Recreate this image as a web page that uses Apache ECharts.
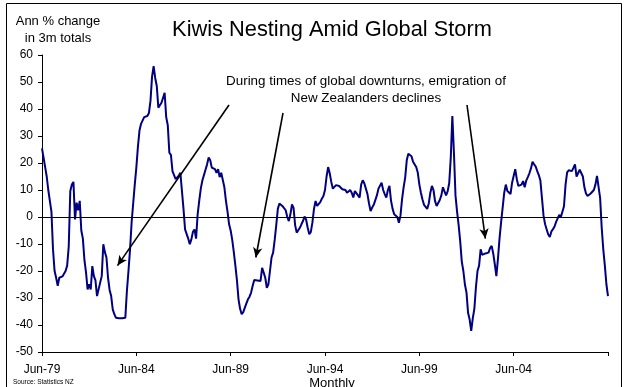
<!DOCTYPE html>
<html>
<head>
<meta charset="utf-8">
<script src="https://cdn.jsdelivr.net/npm/echarts@6/dist/echarts.min.js"></script>
<style>
  html, body { margin: 0; padding: 0; background: #ffffff; }
  #chart { width: 627px; height: 387px; }
</style>
</head>
<body>
<div id="chart"></div>
<script>
const FONT = '"Liberation Sans", Arial, Helvetica, sans-serif';

// Monthly series starting June 1979: annual % change in 3-month totals
const firstYear = 1979;
const firstMonth = 5; // June (0-based)
const annChange = [
  25.4, 22, 18.5, 15, 10, 6, 2, -12, -20, -22.5, -25.5, -22.5,
  -22.5, -22, -21, -20, -18, -11, 9.6, 12, 13, -0.9, 5.3, 2.5,
  6, -5, -8, -16, -20.5, -26.8, -24.9, -26.8, -18.2, -21.9, -23.5, -29.3,
  -29.3, -24.3, -21.9, -10.1, -13, -15, -22.5, -27, -29.3, -34.2, -36, -37.3,
  -37.5, -37.5, -37.3, -37.5, -37.3, -37.3, -27.4, -20, -12, -2, 5, 12,
  18.3, 26, 32, 34.5, 35, 37, 36.5, 37.4, 38.5, 43, 52, 55.9,
  51.5, 48.5, 40.5, 41, 42.3, 41.7, 46, 37, 34, 23.8, 23, 17,
  15.5, 14, 13.5, 15.3, 16.4, 16.4, 3, -4.6, -5.2, -8, -10.1, -8.3,
  -5.5, -4.6, -8, 1, 6, 10.5, 13.5, 15.5, 17.5, 19.5, 22, 21,
  18.3, 18, 17.7, 16.4, 17.7, 14.8, 16.4, 15.8, 11, 6, 2, -2.7,
  -5, -8.5, -13, -18, -23.5, -30.5, -34, -36, -35.2, -34.5, -32, -30.5,
  -29.5, -28, -25.5, -23.3, -23.4, -23.5, -23.2, -23.7, -18.8, -20.6, -22.5, -26.2,
  -24.9, -20, -15, -13.2, -8.5, -3, 3, 5, 4.5, 4, 3.4, 2.5,
  0, -1.5, 1, 4.7, 3.4, -3, -5.8, -5.2, -4, -2.7, -1.5, 0.2,
  -1, -4, -6.4, -5.5, -2, 3, 5.9, 4.1, 4.5, 5.5, 6.8, 7.8,
  10, 15, 18.5, 16.2, 13, 10.5, 11, 11.8, 11.5, 11.5, 11.5, 10.3,
  10.9, 10, 9, 8.4, 10, 9, 7.2, 9.6, 9, 8, 7.2, 12,
  13.6, 12.5, 10.5, 8.5, 5, 2.2, 3.5, 4.5, 5, 8, 10.5, 10,
  12.7, 10, 8.5, 7.2, 10, 11.5, 6, 3, 1, 0.6, 0, -2.1,
  0.5, 6.5, 11, 14.6, 21, 23.4, 23.2, 22.5, 20.5, 20.1, 18.5, 16.5,
  12.1, 9, 6.5, 4.5, 4.1, 3, 5, 9, 11.5, 10, 5.9, 4.1,
  4.6, 6.3, 8, 11, 10.5, 8, 9.5, 12.5, 22, 37.4, 24, 8,
  2, -3, -9, -16.5, -20, -25, -28, -35.5, -38, -42.2, -37.5, -34,
  -26, -20, -18, -12, -14, -14.2, -13.5, -13.5, -13.2, -11.5, -10.7, -13.5,
  -17.5, -21.9, -15.5, -8, -2, 3.5, 9, 12, 9.6, 9, 8.5, 12.7,
  12.5, 17.7, 14, 11.5, 11, 12, 13.3, 11, 13.5, 14.8, 16.2, 18,
  20.5, 19.5, 18.7, 17, 15.5, 13.5, 7, 0.5, -2.7, -4.6, -6.5, -7.4,
  -5.4, -4.5, -3.5, -1.8, -0.5, 0.8, -0.1, 0.4, 4, 12, 16.5, 17.3,
  17.5, 17, 18.2, 19.5, 15, 14.5, 17.5, 17, 15, 11, 8.7, 7.8,
  8, 8.7, 9.3, 10, 12, 15.2, 15.5, 7, -4, -12, -18, -25,
  -29.3
];

const tickLabels = ['Jun-79', 'Jun-84', 'Jun-89', 'Jun-94', 'Jun-99', 'Jun-04'];
const yTicks = { min: -50, max: 60, step: 10 };

const titleText = 'Kiwis Nesting Amid Global Storm';
const yNameLines = ['Ann % change', 'in 3m totals'];
const xNameText = 'Monthly';
const sourceText = 'Source: Statistics NZ';
const noteLines = ['During times of global downturns, emigration of', 'New Zealanders declines'];

// Downturn troughs the note points at: [month index, value]
const noteTargets = [[48, -18], [136, -15], [282, -8]];

const monthNames = ['Jan', 'Feb', 'Mar', 'Apr', 'May', 'Jun', 'Jul', 'Aug', 'Sep', 'Oct', 'Nov', 'Dec'];
const categories = annChange.map((_, i) => {
  const t = firstMonth + i;
  const yr = (firstYear + Math.floor(t / 12)) % 100;
  return monthNames[t % 12] + '-' + String(yr).padStart(2, '0');
});

// Where each arrow leaves the note text (pixels)
const arrowStarts = [[229, 105], [283, 113], [467, 105]];

const markData = [
  { yAxis: 0, lineStyle: { color: '#000000', width: 1, type: 'solid' } }
];
noteTargets.forEach((tgt, k) => {
  markData.push([
    { x: arrowStarts[k][0], y: arrowStarts[k][1], symbol: 'none' },
    { coord: [tgt[0], tgt[1]], symbol: 'arrow', symbolSize: [7, 10],
      lineStyle: { color: '#000000', width: 1.6, type: 'solid' } }
  ]);
});

const chart = echarts.init(document.getElementById('chart'), null, { renderer: 'canvas' });

chart.setOption({
  animation: false,
  backgroundColor: '#ffffff',
  textStyle: { fontFamily: FONT },
  grid: { left: 42, right: 19, top: 55, bottom: 35, containLabel: false },
  xAxis: {
    type: 'category',
    data: categories,
    boundaryGap: false,
    axisLine: { onZero: false, lineStyle: { color: '#000000', width: 1 } },
    axisTick: {
      show: true,
      inside: false,
      length: 4,
      interval: (i) => i % 60 === 0,
      lineStyle: { color: '#000000', width: 1 }
    },
    axisLabel: {
      interval: (i, v) => tickLabels.indexOf(v) !== -1,
      color: '#000000',
      fontFamily: FONT,
      fontSize: 12,
      margin: 12,
      hideOverlap: false
    },
    splitLine: { show: false }
  },
  yAxis: {
    type: 'value',
    min: yTicks.min,
    max: yTicks.max,
    interval: yTicks.step,
    axisLine: { show: true, lineStyle: { color: '#000000', width: 1 } },
    axisTick: { show: true, inside: false, length: 4, lineStyle: { color: '#000000', width: 1 } },
    axisLabel: { color: '#000000', fontFamily: FONT, fontSize: 12, margin: 9 },
    splitLine: { show: false }
  },
  series: [{
    type: 'line',
    data: annChange,
    showSymbol: false,
    symbol: 'none',
    lineStyle: { color: '#000080', width: 2 },
    itemStyle: { color: '#000080' },
    emphasis: { disabled: true },
    markLine: {
      silent: true,
      animation: false,
      symbol: ['none', 'none'],
      label: { show: false },
      emphasis: { disabled: true },
      lineStyle: { color: '#000000', width: 1, type: 'solid' },
      data: markData
    }
  }],
  graphic: [
    {
      type: 'rect', silent: true, z: 0,
      shape: { x: 6.5, y: 3.5, width: 615, height: 400 },
      style: { fill: 'none', stroke: '#000000', lineWidth: 1 }
    },
    {
      type: 'text', x: 332, y: 30, silent: true,
      style: { text: titleText, font: '21.8px ' + FONT, fill: '#000000', align: 'center', verticalAlign: 'middle' }
    },
    {
      type: 'text', x: 58, y: 21, silent: true,
      style: { text: yNameLines[0], font: '13px ' + FONT, fill: '#000000', align: 'center', verticalAlign: 'middle' }
    },
    {
      type: 'text', x: 58, y: 38, silent: true,
      style: { text: yNameLines[1], font: '13px ' + FONT, fill: '#000000', align: 'center', verticalAlign: 'middle' }
    },
    {
      type: 'text', x: 366, y: 81.5, silent: true,
      style: { text: noteLines[0], font: '13.4px ' + FONT, fill: '#000000', align: 'center', verticalAlign: 'middle' }
    },
    {
      type: 'text', x: 366, y: 98, silent: true,
      style: { text: noteLines[1], font: '13.4px ' + FONT, fill: '#000000', align: 'center', verticalAlign: 'middle' }
    },
    {
      type: 'text', x: 332, y: 383, silent: true,
      style: { text: xNameText, font: '13px ' + FONT, fill: '#000000', align: 'center', verticalAlign: 'middle' }
    },
    {
      type: 'text', x: 13, y: 382, silent: true,
      style: { text: sourceText, font: '6.5px ' + FONT, fill: '#000000', align: 'left', verticalAlign: 'middle' }
    }
  ]
});
</script>
</body>
</html>
